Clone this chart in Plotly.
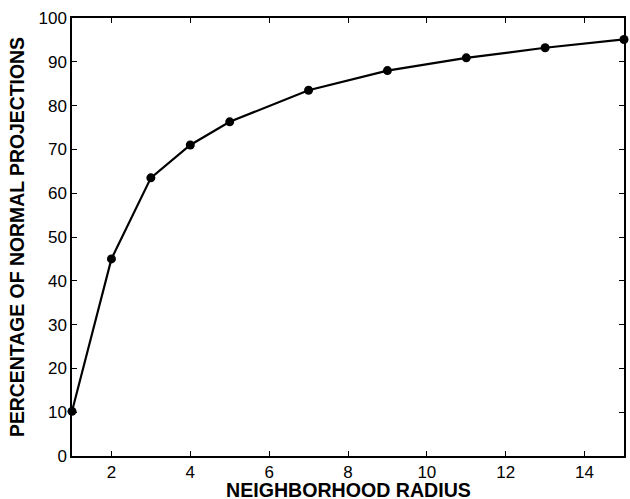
import plotly.graph_objects as go

radius = [1, 2, 3, 4, 5, 7, 9, 11, 13, 15]
percent = [10.2, 45.0, 63.5, 71.0, 76.3, 83.5, 88.0, 90.9, 93.2, 95.1]
x_ticks = [2, 4, 6, 8, 10, 12, 14]
y_ticks = [0, 10, 20, 30, 40, 50, 60, 70, 80, 90, 100]

fig = go.Figure()
fig.add_trace(go.Scatter(
    x=radius, y=percent, mode="lines+markers",
    line=dict(color="black", width=2.2),
    marker=dict(color="black", size=9),
    cliponaxis=False, showlegend=False,
))

font = dict(family="Liberation Sans, Arial, sans-serif", size=17, color="black")
fig.update_layout(
    width=630, height=499,
    margin=dict(l=72, r=4, t=18, b=43),
    plot_bgcolor="white", paper_bgcolor="white",
    font=font,
    xaxis=dict(
        range=[1, 15], tickvals=x_ticks, ticks="inside", ticklen=5, tickwidth=1,
        tickcolor="black", showline=True, linecolor="black", linewidth=1.5,
        mirror="allticks", showgrid=False, zeroline=False,
    ),
    yaxis=dict(
        range=[0, 100], tickvals=y_ticks, ticks="inside", ticklen=5, tickwidth=1,
        tickcolor="black", showline=True, linecolor="black", linewidth=1.5,
        mirror="allticks", showgrid=False, zeroline=False,
        title=dict(text="<b>PERCENTAGE OF NORMAL PROJECTIONS</b>", font=dict(size=19.4), standoff=9),
    ),
    annotations=[dict(
        text="<b>NEIGHBORHOOD RADIUS</b>", xref="paper", yref="paper",
        x=0.5, y=0, xanchor="center", yanchor="top", yshift=-21,
        showarrow=False, font=dict(size=19.6),
    )],
)
fig.write_html("out.html", config={"displayModeBar": False},
               post_script="document.body.style.margin='0';document.body.style.overflow='hidden';")
